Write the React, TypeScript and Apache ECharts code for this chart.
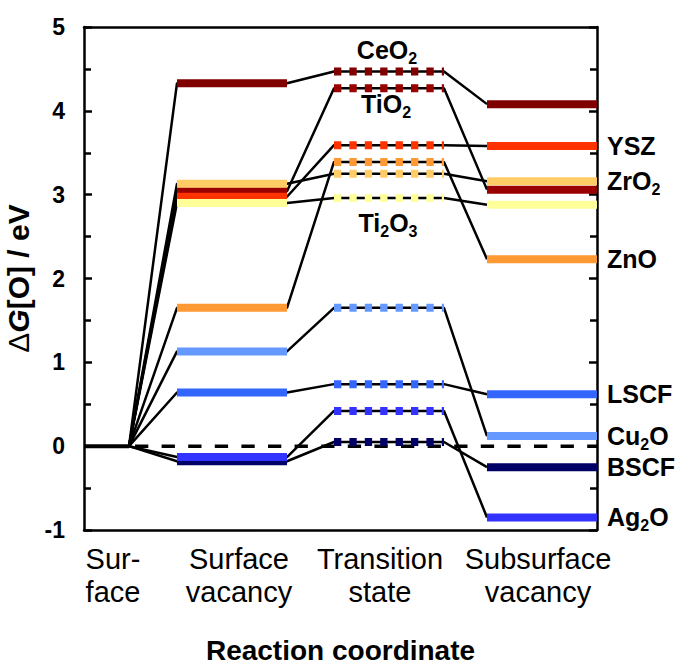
import React, { useEffect, useRef } from 'react';
import * as echarts from 'echarts';

// ---- data ----
const materials = ['CeO2', 'TiO2', 'YSZ', 'ZnO', 'ZrO2', 'Ti2O3', 'Cu2O', 'LSCF', 'Ag2O', 'BSCF'];
const surfaceVacancy = [4.33, 3.04, 2.975, 1.65, 3.13, 2.9, 1.13, 0.64, -0.13, -0.18];
const transitionState = [4.47, 4.27, 3.59, 3.39, 3.25, 2.96, 1.65, 0.74, 0.42, 0.05];
const subsurfaceVacancy = [4.08, 3.06, 3.58, 2.23, 3.16, 2.88, 0.12, 0.62, -0.85, -0.25];
const materialColors = ['#800000', '#990000', '#FF3300', '#FF9933', '#FFCC66', '#FFFF99', '#6699FF', '#3366FF', '#3333FF', '#000066'];
const rightLabelled = ['YSZ', 'ZrO2', 'ZnO', 'LSCF', 'Cu2O', 'BSCF', 'Ag2O'];
const insideLabelled = ['CeO2', 'TiO2', 'Ti2O3'];
const stageLabels = ['Sur-\nface', 'Surface\nvacancy', 'Transition\nstate', 'Subsurface\nvacancy'];
const surfaceLevel = 0;

// ---- layout (x positions along the reaction coordinate, in px units of the axis) ----
const X_MAX = 513;
const SURF = [0, 45];
const SV = [93, 203];
const TS = [250, 360];
const SS = [403, 513];
const ZERO_START = 51;
const STAGE_LABEL_X = [29, 155, 296, 454];
const DRAW_ORDER = ['CeO2', 'TiO2', 'YSZ', 'Ti2O3', 'ZrO2', 'ZnO', 'Cu2O', 'LSCF', 'BSCF', 'Ag2O'];
const INSIDE_POS: Record<string, [number, number]> = {
  CeO2: [387, 50],
  TiO2: [386, 104],
  Ti2O3: [388, 223],
};

const FONT = '"Liberation Sans", Arial, Helvetica, sans-serif';

const RICH = {
  n: { fontSize: 25, fontWeight: 'bold', fontFamily: FONT, color: '#000' },
  s: { fontSize: 16, fontWeight: 'bold', fontFamily: FONT, color: '#000', padding: [16, 0, 0, 0] },
};

function chem(name: string): string {
  const parts = name.match(/\d+|\D+/g) || [];
  return parts.map((t) => (/\d/.test(t) ? `{s|${t}}` : `{n|${t}}`)).join('');
}

export default function App() {
  const ref = useRef<HTMLDivElement>(null);

  useEffect(() => {
    if (!ref.current) return;
    const chart = echarts.init(ref.current, undefined, { renderer: 'svg' });

    const series: any[] = [];

    // zero reference line (dashed)
    series.push({
      type: 'line',
      data: [[ZERO_START, surfaceLevel], [X_MAX, surfaceLevel]],
      symbol: 'none',
      silent: true,
      z: 2,
      lineStyle: { color: '#000', width: 3.5, type: [13.3, 13.3] },
    });
    // surface level
    series.push({
      type: 'line',
      data: [[SURF[0], surfaceLevel], [SURF[1], surfaceLevel]],
      symbol: 'none',
      silent: true,
      z: 3,
      lineStyle: { color: '#000', width: 4 },
    });

    // connectors
    materials.forEach((m, i) => {
      series.push({
        type: 'line',
        name: m + ' path',
        data: [
          [SURF[1], surfaceLevel],
          [SV[0], surfaceVacancy[i]],
          [SV[1], surfaceVacancy[i]],
          [TS[0], transitionState[i]],
          [TS[1], transitionState[i]],
          [SS[0], subsurfaceVacancy[i]],
        ],
        symbol: 'none',
        silent: true,
        z: 3,
        lineStyle: { color: '#000', width: 2.5 },
      });
    });

    // levels
    DRAW_ORDER.forEach((m) => {
      const i = materials.indexOf(m);
      const c = materialColors[i];
      series.push({
        type: 'line',
        name: m + ' SV',
        data: [[SV[0], surfaceVacancy[i]], [SV[1], surfaceVacancy[i]]],
        symbol: 'none',
        silent: true,
        z: 4,
        lineStyle: { color: c, width: 8, cap: 'butt' },
      });
      series.push({
        type: 'line',
        name: m + ' TS',
        data: [[TS[0], transitionState[i]], [TS[1], transitionState[i]]],
        symbol: 'none',
        silent: true,
        z: 5,
        lineStyle: { color: c, width: 8, type: [7.3, 8.1], cap: 'butt' },
      });
      series.push({
        type: 'line',
        name: m + ' SS',
        data: [[SS[0], subsurfaceVacancy[i]], [SS[1], subsurfaceVacancy[i]]],
        symbol: 'none',
        silent: true,
        z: 4,
        lineStyle: { color: c, width: 8, cap: 'butt' },
        endLabel: rightLabelled.includes(m)
          ? { show: true, formatter: chem(m), distance: 10, rich: RICH }
          : { show: false },
      });
    });

    const graphic = insideLabelled.map((m) => ({
      type: 'text',
      x: INSIDE_POS[m][0],
      y: INSIDE_POS[m][1],
      z: 10,
      style: {
        text: chem(m),
        rich: RICH,
        align: 'center',
        verticalAlign: 'middle',
      },
    }));

    const yAxisCommon = {
      type: 'value',
      min: -1,
      max: 5,
      interval: 1,
      axisLine: { show: true, onZero: false, lineStyle: { color: '#000', width: 2.5 } },
      axisTick: { show: true, inside: true, length: 8, lineStyle: { color: '#000', width: 2.5 } },
      minorTick: { show: true, splitNumber: 2, length: 7, lineStyle: { color: '#000', width: 2.5 } },
      splitLine: { show: false },
      minorSplitLine: { show: false },
    };

    chart.setOption({
      animation: false,
      backgroundColor: '#fff',
      grid: { left: 84, top: 27, width: 513, height: 503, containLabel: false, outerBoundsMode: 'none' },
      xAxis: [
        {
          type: 'value',
          min: 0,
          max: X_MAX,
          position: 'bottom',
          axisLine: { show: true, onZero: false, lineStyle: { color: '#000', width: 2.5 } },
          axisTick: { show: false },
          splitLine: { show: false },
          axisLabel: {
            customValues: STAGE_LABEL_X,
            formatter: (v: number) => {
              const k = STAGE_LABEL_X.indexOf(Math.round(v));
              return k >= 0 ? stageLabels[k] : '';
            },
            fontSize: 29,
            lineHeight: 33,
            color: '#000',
            fontFamily: FONT,
            margin: 12,
            hideOverlap: false,
          },
          name: 'Reaction coordinate',
          nameLocation: 'middle',
          nameGap: 106,
          nameTextStyle: { fontSize: 28, fontWeight: 'bold', color: '#000', fontFamily: FONT },
        },
        {
          type: 'value',
          min: 0,
          max: X_MAX,
          position: 'top',
          axisLine: { show: true, onZero: false, lineStyle: { color: '#000', width: 2.5 } },
          axisTick: { show: false },
          axisLabel: { show: false },
          splitLine: { show: false },
        },
      ],
      yAxis: [
        {
          ...yAxisCommon,
          position: 'left',
          axisLabel: { fontSize: 23, fontWeight: 'bold', color: '#000', fontFamily: FONT, margin: 19 },
          name: '{d|\u0394}{i|G}{n|[O] / eV}',
          nameLocation: 'middle',
          nameRotate: 90,
          nameGap: 43,
          nameTextStyle: {
            rich: {
              d: { fontSize: 30, fontFamily: FONT, color: '#000' },
              i: { fontSize: 30, fontWeight: 'bold', fontStyle: 'italic', fontFamily: FONT, color: '#000' },
              n: { fontSize: 30, fontWeight: 'bold', fontFamily: FONT, color: '#000' },
            },
          },
        },
        {
          ...yAxisCommon,
          position: 'right',
          axisLabel: { show: false },
        },
      ],
      graphic,
      series,
    });

    return () => chart.dispose();
  }, []);

  return (
    <div
      ref={ref}
      style={{ position: 'fixed', left: 0, top: 0, width: 676, height: 670, background: '#fff' }}
    />
  );
}
